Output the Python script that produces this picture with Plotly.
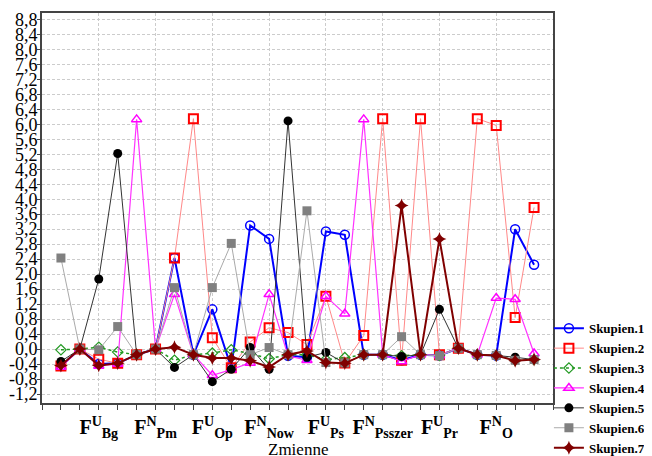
import plotly.graph_objects as go

# x positions of the 26 variables (index along the axis)
x_pos = list(range(26))

tick_positions = [2, 5, 8, 11, 14, 17, 20, 23]
tick_labels = [
    "F<sup>U</sup><sub>Bg</sub>",
    "F<sup>N</sup><sub>Pm</sub>",
    "F<sup>U</sup><sub>Op</sub>",
    "F<sup>N</sup><sub>Now</sub>",
    "F<sup>U</sup><sub>Ps</sub>",
    "F<sup>N</sup><sub>Psszer</sub>",
    "F<sup>U</sup><sub>Pr</sub>",
    "F<sup>N</sup><sub>O</sub>",
]
x_title = "Zmienne"

y_tick_vals = [-1.2, -0.8, -0.4, 0.0, 0.4, 0.8, 1.2, 1.6, 2.0, 2.4, 2.8, 3.2, 3.6, 4.0,
               4.4, 4.8, 5.2, 5.6, 6.0, 6.4, 6.8, 7.2, 7.6, 8.0, 8.4, 8.8]
y_tick_text = ["-1,2", "-0,8", "-0,4", "0,0", "0,4", "0,8", "1,2", "1,6", "2,0", "2,4",
               "2,8", "3,2", "3,6", "4,0", "4,4", "4,8", "5,2", "5,6", "6,0", "6,4",
               "6,8", "7,2", "7,6", "8,0", "8,4", "8,8"]

skupien1 = [-0.45, 0.0, -0.40, -0.38, -0.15, 0.0, 2.43, -0.15, 1.06, -0.50, 3.30, 2.94, -0.18,
            -0.22, 3.14, 3.05, -0.15, -0.15, -0.30, -0.15, -0.17, 0.02, -0.15, -0.17, 3.20, 2.25]
skupien2 = [-0.45, 0.0, -0.27, -0.38, -0.15, 0.0, 2.43, 6.15, 0.30, -0.50, 0.19, 0.57, 0.44,
            0.12, 1.41, -0.37, 0.36, 6.15, -0.30, 6.15, -0.15, 0.02, 6.15, 5.97, 0.84, 3.78]
skupien3 = [-0.02, 0.0, 0.05, -0.08, -0.15, 0.0, -0.30, -0.15, -0.11, -0.02, -0.12, -0.26, -0.15,
            -0.15, -0.28, -0.23, -0.15, -0.15, -0.18, -0.15, -0.17, 0.02, -0.15, -0.17, -0.30, -0.28]
skupien4 = [-0.48, 0.0, -0.45, -0.40, 6.13, 0.0, 1.46, -0.15, -0.70, -0.55, -0.37, 1.46, -0.18,
            -0.30, 1.41, 0.94, 6.13, -0.15, -0.33, -0.15, -0.17, 0.02, -0.15, 1.36, 1.33, -0.12]
skupien5 = [-0.33, 0.0, 1.87, 5.22, -0.15, 0.0, -0.49, -0.15, -0.87, -0.54, 0.04, -0.54, 6.09,
            -0.22, -0.09, -0.38, -0.15, -0.15, -0.20, -0.15, 1.06, 0.02, -0.15, -0.17, -0.22, -0.28]
skupien6 = [2.43, 0.0, -0.02, 0.60, -0.15, 0.0, 1.64, -0.15, 1.64, 2.82, -0.15, 0.04, -0.15,
            3.69, -0.36, -0.37, -0.15, -0.15, 0.33, -0.15, -0.18, 0.02, -0.15, -0.17, -0.30, -0.28]
skupien7 = [-0.44, 0.0, -0.44, -0.38, -0.15, 0.0, 0.05, -0.15, -0.24, -0.24, -0.31, -0.48, -0.15,
            -0.05, -0.36, -0.38, -0.15, -0.15, 3.83, -0.15, 2.94, 0.02, -0.15, -0.17, -0.31, -0.28]

series = [
    ("Skupien.1", skupien1, dict(color="#0000FF", width=2), dict(symbol="circle-open", size=9, color="#0000FF", line=dict(width=1.5))),
    ("Skupien.2", skupien2, dict(color="#FF8888", width=1), dict(symbol="square-open", size=9, color="#FF0000", line=dict(width=2))),
    ("Skupien.3", skupien3, dict(color="#229922", width=1.5, dash="dot"), dict(symbol="diamond-open", size=8, color="#229922", line=dict(width=1.2))),
    ("Skupien.4", skupien4, dict(color="#FF33FF", width=1.2), dict(symbol="triangle-up-open", size=9, color="#FF00FF", line=dict(width=1.5))),
    ("Skupien.5", skupien5, dict(color="#333333", width=1), dict(symbol="circle", size=9, color="#000000")),
    ("Skupien.6", skupien6, dict(color="#AAAAAA", width=1), dict(symbol="square", size=9, color="#808080")),
    ("Skupien.7", skupien7, dict(color="#800000", width=2), dict(symbol="star-diamond", size=10, color="#800000")),
]

fig = go.Figure()
for name, vals, line, marker in series:
    fig.add_trace(go.Scatter(x=x_pos, y=vals, mode="lines+markers", name=name,
                             line=line, marker=marker))

SERIF = "Liberation Serif"

# the page body adds an 8px offset, so margins are reduced by 8px on the left/top
fig.update_layout(
    width=652, height=456,
    margin=dict(l=34, r=107, t=5, b=61, autoexpand=False),
    paper_bgcolor="white", plot_bgcolor="white",
    font=dict(family=SERIF, color="black"),
    showlegend=True,
    legend=dict(x=0.992, xanchor="left", y=0.23, yanchor="top",
                font=dict(family=SERIF, size=13, color="black", weight="bold"),
                bgcolor="rgba(0,0,0,0)", itemwidth=30, tracegroupgap=0),
    xaxis=dict(range=[-1, 26], tickmode="array", tickvals=tick_positions, ticktext=tick_labels,
               tickfont=dict(family=SERIF, size=20, color="black", weight="bold"),
               showgrid=True, gridcolor="#cccccc", griddash="3px,2px", gridwidth=1,
               showline=True, linecolor="#444444", linewidth=2, mirror=True,
               ticks="outside", ticklen=5, tickcolor="#444444", ticklabelstandoff=0,
               minor=dict(dtick=1, tick0=0, ticks="outside", ticklen=5, tickcolor="#444444", showgrid=False),
               zeroline=False, automargin=False),
    yaxis=dict(range=[-1.44, 8.97], tickmode="array", tickvals=y_tick_vals, ticktext=y_tick_text,
               tickfont=dict(family=SERIF, size=18, color="black"),
               showgrid=True, gridcolor="#cccccc", griddash="3px,2px", gridwidth=1,
               showline=True, linecolor="#444444", linewidth=2, mirror=True,
               ticks="outside", ticklen=3, tickcolor="#444444", ticklabelstandoff=-4,
               zeroline=False, automargin=False),
    annotations=[dict(text=x_title, x=0.5, xref="paper", y=-0.119, yref="paper",
                      xanchor="center", yanchor="middle", showarrow=False,
                      font=dict(family=SERIF, size=17, color="black"))],
)

fig.write_html("out.html")
